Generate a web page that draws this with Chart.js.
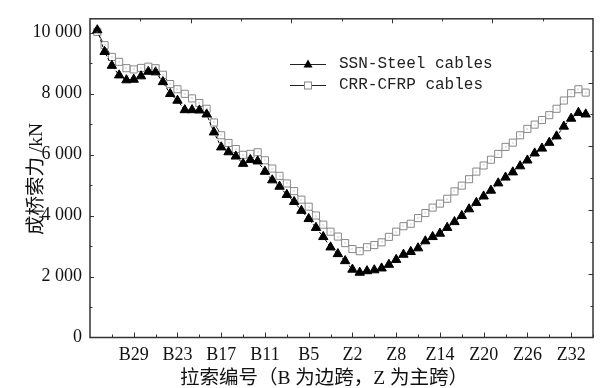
<!DOCTYPE html>
<html>
<head>
<meta charset="utf-8">
<script src="https://cdn.jsdelivr.net/npm/chart.js@4.4.1/dist/chart.umd.min.js"></script>
<style>
  html, body { margin: 0; padding: 0; background: #fff; }
  #wrap { width: 603px; height: 388px; }
</style>
</head>
<body>
<div id="wrap"><canvas id="cableChart" width="603" height="388"></canvas></div>
<script>
// cable numbers, side span B34..B1 then main span Z1..Z34
const cables = [
  'B34','B33','B32','B31','B30','B29','B28','B27','B26','B25','B24','B23',
  'B22','B21','B20','B19','B18','B17','B16','B15','B14','B13','B12','B11',
  'B10','B9','B8','B7','B6','B5','B4','B3','B2','B1',
  'Z1','Z2','Z3','Z4','Z5','Z6','Z7','Z8','Z9','Z10','Z11','Z12',
  'Z13','Z14','Z15','Z16','Z17','Z18','Z19','Z20','Z21','Z22','Z23','Z24',
  'Z25','Z26','Z27','Z28','Z29','Z30','Z31','Z32','Z33','Z34'
];

// cable force after completion, kN
const steelForce = [
  10080, 9370, 8915, 8600, 8440, 8460, 8570, 8720, 8700, 8380, 7990, 7770,
  7460, 7460, 7450, 7320, 6730, 6240, 6080, 5940, 5700, 5830, 5780, 5440,
  5160, 4950, 4680, 4450, 4160, 3890, 3600, 3300, 2960, 2740,
  2510, 2230, 2130, 2180, 2210, 2270, 2390, 2550, 2720, 2810, 2930, 3160,
  3300, 3410, 3600, 3790, 3990, 4210, 4420, 4630, 4820, 5060, 5250, 5420,
  5620, 5810, 6040, 6200, 6390, 6600, 6920, 7180, 7370, 7320
];
const cfrpForce = [
  10020, 9585, 9200, 9040, 8830, 8790, 8840, 8880, 8830, 8615, 8310, 8140,
  7990, 7840, 7690, 7500, 7050, 6630, 6380, 6180, 5990, 6020, 6075, 5810,
  5540, 5300, 5050, 4800, 4520, 4290, 4000, 3700, 3470, 3310,
  3095, 2900, 2830, 2960, 3030, 3120, 3300, 3470, 3650, 3730, 3915, 4080,
  4260, 4390, 4550, 4790, 4980, 5190, 5440, 5640, 5830, 6020, 6250, 6390,
  6630, 6840, 6980, 7130, 7290, 7500, 7770, 8010, 8140, 8030
];

const xTickLabels = ['B29','B23','B17','B11','B5','Z2','Z8','Z14','Z20','Z26','Z32'];
const yTickValues = [0, 2000, 4000, 6000, 8000, 10000];
const xTitle = '拉索编号（B 为边跨，Z 为主跨）';
const yTitle = '成桥索力 /kN';

// x position of a cable: B35 sits on the left frame, Z35 on the right one
const posOf = name => cables.indexOf(name) + 1;
const xMajor = xTickLabels.map(posOf);
const xMinor = xMajor.map(p => p - 3).concat([xMajor[xMajor.length - 1] + 3]);

const toPoints = arr => arr.map((v, i) => ({ x: i + 1, y: v }));
const fmt = v => String(v).replace(/\B(?=(\d{3})+(?!\d))/g, ' ');

const titleFont = '19.5px "Liberation Serif", "Noto Sans CJK SC", serif';

// inward ticks on all four sides, frame, titles, legend
const frameTicks = {
  id: 'frameTicks',
  afterDraw(chart) {
    const { ctx, chartArea: a } = chart;
    const sx = chart.scales.x, sy = chart.scales.y;
    ctx.save();
    ctx.strokeStyle = '#333';
    ctx.lineWidth = 1;
    ctx.beginPath();
    const vTick = (px, y0, len) => { px = Math.round(px) + 0.5; ctx.moveTo(px, y0); ctx.lineTo(px, y0 + len); };
    const hTick = (py, x0, len) => { py = Math.round(py) + 0.5; ctx.moveTo(x0, py); ctx.lineTo(x0 + len, py); };
    xMajor.forEach(p => vTick(sx.getPixelForValue(p), a.bottom, -5));
    xMinor.forEach(p => vTick(sx.getPixelForValue(p), a.bottom, -3));
    for (let v = 1000; v < 10500; v += 1000) {
      hTick(sy.getPixelForValue(v), a.left, v % 2000 === 0 ? 4 : 2.5);
    }
    // top and right frames carry their own 0..10 ticks
    for (let k = 1; k < 10; k++) {
      const px = a.left + (a.right - a.left) * k / 10;
      vTick(px, a.top, k % 2 === 0 ? 4.5 : 2.5);
      const py = a.bottom - (a.bottom - a.top) * k / 10;
      hTick(py, a.right, k % 2 === 0 ? -4.5 : -2.5);
    }
    ctx.stroke();
    ctx.lineWidth = 1.5;
    ctx.strokeRect(a.left, a.top, a.right - a.left, a.bottom - a.top);

    // little dot in the open squares
    ctx.fillStyle = '#999';
    chart.getDatasetMeta(1).data.forEach(pt => {
      ctx.fillRect(Math.round(pt.x) - 0.5, Math.round(pt.y) - 0.5, 1, 1);
    });

    // axis titles
    ctx.fillStyle = '#111';
    ctx.font = titleFont;
    ctx.textAlign = 'center';
    ctx.textBaseline = 'middle';
    ctx.fillText(xTitle, 324, 379);
    ctx.save();
    ctx.translate(37, 179);
    ctx.rotate(-Math.PI / 2);
    ctx.fillText(yTitle, 0, 0);
    ctx.restore();

    // legend
    const rows = [
      { y: 64, text: 'SSN-Steel cables', tri: true },
      { y: 85, text: 'CRR-CFRP cables', tri: false }
    ];
    ctx.font = '16px "Liberation Mono", monospace';
    ctx.textAlign = 'left';
    rows.forEach(r => {
      ctx.strokeStyle = '#222';
      ctx.lineWidth = 1;
      ctx.beginPath();
      ctx.moveTo(290, r.y + 0.5);
      ctx.lineTo(326, r.y + 0.5);
      ctx.stroke();
      if (r.tri) {
        ctx.fillStyle = '#000';
        ctx.beginPath();
        ctx.moveTo(308, r.y - 4.5);
        ctx.lineTo(312.5, r.y + 3.5);
        ctx.lineTo(303.5, r.y + 3.5);
        ctx.closePath();
        ctx.fill();
      } else {
        ctx.fillStyle = '#fff';
        ctx.fillRect(304.5, r.y - 3, 7, 7);
        ctx.strokeStyle = '#888';
        ctx.strokeRect(304.5, r.y - 3, 7, 7);
      }
      ctx.fillStyle = '#222';
      ctx.fillText(r.text, 339, r.y);
    });
    ctx.restore();
  }
};

new Chart(document.getElementById('cableChart'), {
  type: 'line',
  data: {
    datasets: [
      {
        label: 'SSN-Steel cables',
        data: toPoints(steelForce),
        borderColor: '#000',
        borderWidth: 1,
        borderDash: [3, 2],
        pointStyle: 'triangle',
        pointRadius: 5.4,
        pointBackgroundColor: '#000',
        pointBorderColor: '#000',
        pointBorderWidth: 1,
        tension: 0
      },
      {
        label: 'CRR-CFRP cables',
        data: toPoints(cfrpForce),
        borderColor: '#444',
        borderWidth: 1,
        pointStyle: 'rect',
        pointRadius: 5,
        pointBackgroundColor: '#fff',
        pointBorderColor: '#888',
        pointBorderWidth: 1,
        tension: 0
      }
    ]
  },
  options: {
    responsive: false,
    animation: false,
    devicePixelRatio: 1,
    layout: { padding: { top: 10, right: 10, left: 0, bottom: 0 } },
    plugins: { legend: { display: false }, tooltip: { enabled: false } },
    scales: {
      x: {
        type: 'linear',
        min: 0,
        max: 69,
        grid: { display: false, drawTicks: false },
        border: { display: false },
        afterBuildTicks: s => { s.ticks = xMajor.map(v => ({ value: v })); },
        afterFit: s => { s.height = 50.5; },
        ticks: {
          autoSkip: false,
          maxRotation: 0,
          padding: 7,
          color: '#111',
          font: { family: '"Liberation Serif", serif', size: 18 },
          callback: v => cables[v - 1]
        }
      },
      y: {
        min: 0,
        max: 10450,
        grid: { display: false, drawTicks: false },
        border: { display: false },
        afterBuildTicks: s => { s.ticks = yTickValues.map(v => ({ value: v })); },
        afterFit: s => { s.width = 90; },
        ticks: {
          padding: 8,
          color: '#111',
          font: { family: '"Liberation Serif", serif', size: 18 },
          callback: v => fmt(v)
        }
      }
    }
  },
  plugins: [frameTicks]
});
</script>
</body>
</html>
